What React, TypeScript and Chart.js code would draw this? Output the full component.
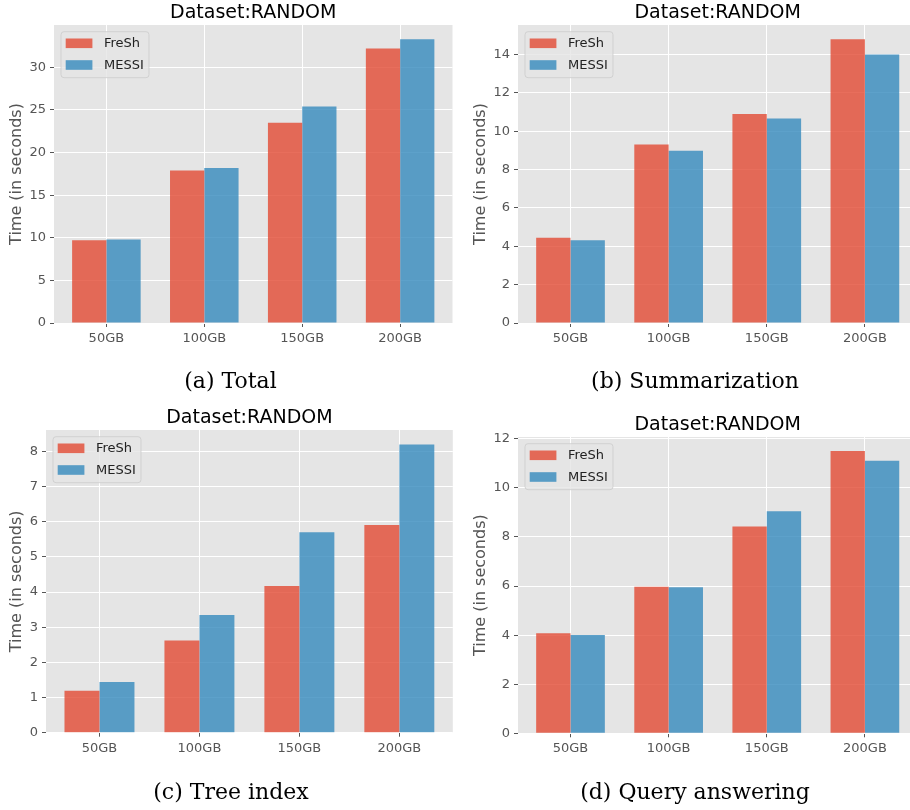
import React, { useEffect, useRef } from "react";
import { Chart, registerables } from "chart.js";

Chart.register(...registerables);

// ---------- data ----------
const categories = ["50GB", "100GB", "150GB", "200GB"];
const seriesNames = ["FreSh", "MESSI"];
const titleText = "Dataset:RANDOM";
const yAxisLabel = "Time (in seconds)";

const totalFresh = [9.7, 17.9, 23.5, 32.2];
const totalMessi = [9.8, 18.2, 25.4, 33.3];
const summFresh = [4.44, 9.31, 10.9, 14.8];
const summMessi = [4.32, 8.98, 10.67, 14.0];
const treeFresh = [1.19, 2.62, 4.17, 5.91];
const treeMessi = [1.44, 3.35, 5.7, 8.2];
const queryFresh = [4.08, 5.97, 8.43, 11.5];
const queryMessi = [4.01, 5.95, 9.05, 11.11];

const yStepSizes = [5, 2, 1, 2];
const captions = ["(a) Total", "(b) Summarization", "(c) Tree index", "(d) Query answering"];

// ---------- styles ----------
const freshColor = "rgba(226,74,51,0.8)";
const messiColor = "rgba(52,138,189,0.8)";
const tickColor = "#555555";
const sans = "'DejaVu Sans', sans-serif";

// panel layout (page coordinates)
const panels = [
  { cx: 0, cy: 0, w: 455, h: 400, L: 54, T: 25, R: 452.5, B: 323, yLabOff: 33, capX: 230.5, capY: 381.5 },
  { cx: 455, cy: 0, w: 470, h: 400, L: 518, T: 25, R: 917.4, B: 323, yLabOff: 33, capX: 695, capY: 381.5 },
  { cx: 0, cy: 400, w: 455, h: 410, L: 46, T: 430, R: 452.8, B: 732.7, yLabOff: 25, capX: 231, capY: 793 },
  { cx: 455, cy: 400, w: 470, h: 410, L: 518, T: 437, R: 917.4, B: 733.3, yLabOff: 33, capX: 695, capY: 793 },
];

const seriesByPanel = [
  [totalFresh, totalMessi],
  [summFresh, summMessi],
  [treeFresh, treeMessi],
  [queryFresh, queryMessi],
];

const decorPlugin = {
  id: "panelDecor",
  beforeDraw(chart: any) {
    const { ctx, chartArea: a } = chart;
    ctx.save();
    ctx.fillStyle = "#E5E5E5";
    ctx.fillRect(a.left, a.top, a.right - a.left, a.bottom - a.top);
    ctx.restore();
  },
  afterDraw(chart: any, _args: any, opts: any) {
    const { ctx, chartArea: a } = chart;
    ctx.save();
    // title
    ctx.fillStyle = "#000000";
    ctx.font = `19px ${sans}`;
    ctx.textAlign = "center";
    ctx.textBaseline = "alphabetic";
    ctx.fillText(opts.title, (a.left + a.right) / 2, a.top - 6.6);
    // y label
    ctx.save();
    ctx.translate(a.left - opts.yLabOff, (a.top + a.bottom) / 2);
    ctx.rotate(-Math.PI / 2);
    ctx.fillStyle = tickColor;
    ctx.font = `16px ${sans}`;
    ctx.fillText(opts.yLabel, 0, 0);
    ctx.restore();
    // legend
    const bx = a.left + 7;
    const by = a.top + 6.7;
    const bw = 88;
    const bh = 46;
    ctx.beginPath();
    const r = 3;
    ctx.moveTo(bx + r, by);
    ctx.lineTo(bx + bw - r, by);
    ctx.arcTo(bx + bw, by, bx + bw, by + r, r);
    ctx.lineTo(bx + bw, by + bh - r);
    ctx.arcTo(bx + bw, by + bh, bx + bw - r, by + bh, r);
    ctx.lineTo(bx + r, by + bh);
    ctx.arcTo(bx, by + bh, bx, by + bh - r, r);
    ctx.lineTo(bx, by + r);
    ctx.arcTo(bx, by, bx + r, by, r);
    ctx.closePath();
    ctx.fillStyle = "rgba(229,229,229,0.8)";
    ctx.fill();
    ctx.strokeStyle = "rgba(204,204,204,0.8)";
    ctx.lineWidth = 1;
    ctx.stroke();
    ctx.font = `13px ${sans}`;
    ctx.textAlign = "left";
    ctx.textBaseline = "middle";
    chart.data.datasets.forEach((ds: any, i: number) => {
      const rowY = by + 11.6 + i * 21.7;
      ctx.fillStyle = ds.backgroundColor;
      ctx.fillRect(bx + 4.7, rowY - 4.8, 26.7, 9.6);
      ctx.fillStyle = "#222222";
      ctx.fillText(ds.label, bx + 43, rowY + 0.5);
    });
    ctx.restore();
  },
};

function Panel({ index }: { index: number }) {
  const ref = useRef<HTMLCanvasElement | null>(null);
  const p = panels[index];
  useEffect(() => {
    if (!ref.current) return;
    const [fresh, messi] = seriesByPanel[index];
    const yMax = Math.max(...fresh, ...messi) * 1.05;
    const yW = p.L - p.cx;
    const xH = p.cy + p.h - p.B;
    const chart = new Chart(ref.current, {
      type: "bar",
      data: {
        datasets: [
          {
            label: seriesNames[0],
            data: fresh.map((v, i) => ({ x: i, y: v })),
            backgroundColor: freshColor,
            borderWidth: 0,
            categoryPercentage: 0.7,
            barPercentage: 1,
          },
          {
            label: seriesNames[1],
            data: messi.map((v, i) => ({ x: i, y: v })),
            backgroundColor: messiColor,
            borderWidth: 0,
            categoryPercentage: 0.7,
            barPercentage: 1,
          },
        ],
      } as any,
      options: {
        animation: false,
        responsive: false,
        devicePixelRatio: 1,
        events: [],
        layout: {
          padding: { left: 0, top: p.T - p.cy, right: p.cx + p.w - p.R, bottom: 0 },
        },
        plugins: {
          legend: { display: false },
          tooltip: { enabled: false },
          title: { display: false },
          panelDecor: { title: titleText, yLabel: yAxisLabel, yLabOff: p.yLabOff },
        } as any,
        scales: {
          x: {
            type: "linear",
            bounds: "data",
            offset: false,
            min: -0.535,
            max: categories.length - 1 + 0.535,
            afterBuildTicks: (s: any) => {
              s.ticks = categories.map((_, i) => ({ value: i }));
            },
            afterFit: (s: any) => {
              s.height = xH;
            },
            ticks: {
              callback: (_v: any, i: number) => categories[i] ?? "",
              color: tickColor,
              font: { family: sans, size: 13 },
              padding: 4,
              autoSkip: false,
              maxRotation: 0,
            },
            grid: {
              offset: false,
              color: "#ffffff",
              lineWidth: 1,
              tickLength: 4,
              tickColor: tickColor,
              drawTicks: true,
            },
            border: { display: false },
          },
          y: {
            type: "linear",
            bounds: "data",
            min: 0,
            max: yMax,
            afterFit: (s: any) => {
              s.width = yW;
            },
            ticks: {
              stepSize: yStepSizes[index],
              includeBounds: false,
              color: tickColor,
              font: { family: sans, size: 13 },
              padding: 4,
            },
            grid: { color: "#ffffff", lineWidth: 1, tickLength: 4, tickColor: tickColor, drawTicks: true },
            border: { display: false },
          },
        } as any,
      },
      plugins: [decorPlugin as any],
    });
    return () => chart.destroy();
  }, [index]);
  return (
    <canvas
      ref={ref}
      width={p.w}
      height={p.h}
      style={{ position: "absolute", left: p.cx, top: p.cy, width: p.w, height: p.h }}
    />
  );
}

export default function App() {
  return (
    <div
      style={{
        position: "fixed",
        left: 0,
        top: 0,
        width: 910,
        height: 810,
        overflow: "hidden",
        background: "#ffffff",
      }}
    >
      {panels.map((_, i) => (
        <Panel key={i} index={i} />
      ))}
      {captions.map((c, i) => (
        <div
          key={"cap" + i}
          style={{
            position: "absolute",
            left: panels[i].capX - 200,
            top: panels[i].capY - 13.7,
            width: 400,
            height: 26,
            lineHeight: "26px",
            textAlign: "center",
            fontFamily: "'DejaVu Serif', serif",
            fontSize: 22,
            color: "#000",
            whiteSpace: "nowrap",
          }}
        >
          {c}
        </div>
      ))}
    </div>
  );
}
